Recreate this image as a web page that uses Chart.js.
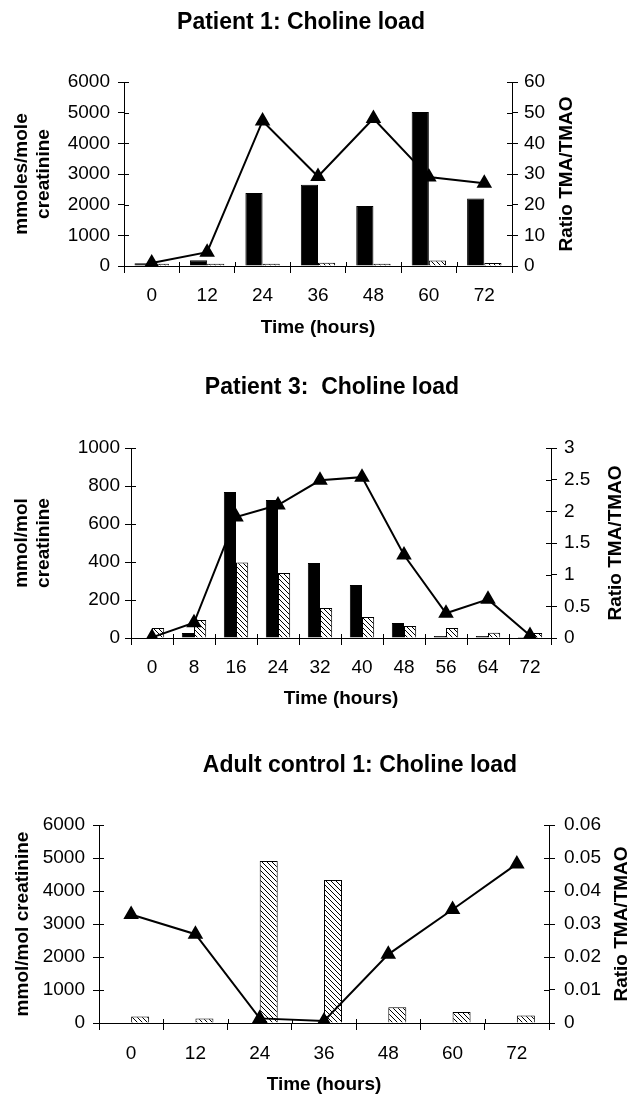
<!DOCTYPE html>
<html>
<head>
<meta charset="utf-8">
<script src="https://cdn.jsdelivr.net/npm/chart.js@4.4.1/dist/chart.umd.min.js"></script>
<style>
  body { margin: 0; background: #fff; }
  canvas { position: absolute; left: 0; }
</style>
</head>
<body>
<canvas id="c1" width="637" height="345" style="top:0px"></canvas>
<canvas id="c2" width="637" height="365" style="top:350px"></canvas>
<canvas id="c3" width="637" height="357" style="top:740px"></canvas>
<script>
// patient 1
const hours1 = ['0', '12', '24', '36', '48', '60', '72'];
const tma1 = [90, 190, 2380, 2650, 1960, 5020, 2200];
const tmao1 = [70, 70, 70, 110, 70, 180, 100];
const ratio1 = [1, 4.5, 47.3, 29.2, 48.1, 29, 27];

// patient 3
const hours2 = ['0', '8', '16', '24', '32', '40', '48', '56', '64', '72'];
const tma2 = [0, 26, 768, 726, 395, 279, 79, 10, 10, 5];
const tmao2 = [53, 95, 398, 342, 158, 111, 63, 53, 28, 26];
const ratio2 = [0.01, 0.24, 1.91, 2.1, 2.49, 2.54, 1.31, 0.39, 0.61, 0.04];

// adult control 1
const hours3 = ['0', '12', '24', '36', '48', '60', '72'];
const tma3 = [0, 0, 0, 0, 0, 0, 0];
const tmao3 = [200, 140, 4910, 4330, 476, 330, 230];
const ratio3 = [0.0329, 0.0269, 0.0014, 0.0006, 0.0208, 0.0344, 0.0482];

Chart.defaults.font.family = '"Liberation Sans", Arial, sans-serif';
Chart.defaults.font.size = 19;
Chart.defaults.color = '#000';

function hatch() {
  var s = 5;
  var c = document.createElement('canvas');
  c.width = s; c.height = s;
  var g = c.getContext('2d');
  g.fillStyle = '#fff';
  g.fillRect(0, 0, s, s);
  g.strokeStyle = '#000';
  g.lineWidth = 1;
  g.beginPath();
  g.moveTo(0, 0); g.lineTo(s, s);
  g.moveTo(-1, s - 1); g.lineTo(1, s + 1);
  g.moveTo(s - 1, -1); g.lineTo(s + 1, 1);
  g.stroke();
  return g.createPattern(c, 'repeat');
}
var hatchFill = hatch();

// short tick marks on the inner side of the axes
const innerTicks = {
  id: 'innerTicks',
  afterDraw(chart) {
    const {ctx, chartArea: a, scales} = chart;
    ctx.save();
    ctx.strokeStyle = '#000';
    ctx.lineWidth = 1;
    ctx.beginPath();
    scales.y.ticks.forEach(t => {
      const py = Math.round(scales.y.getPixelForValue(t.value)) + 0.5;
      ctx.moveTo(a.left, py); ctx.lineTo(a.left + 5, py);
    });
    scales.y1.ticks.forEach(t => {
      const py = Math.round(scales.y1.getPixelForValue(t.value)) + 0.5;
      ctx.moveTo(a.right - 5, py); ctx.lineTo(a.right, py);
    });
    const n = scales.x.ticks.length;
    for (let i = 0; i <= n; i++) {
      const px = Math.round(a.left + i * (a.right - a.left) / n) + 0.5;
      ctx.moveTo(px, a.bottom); ctx.lineTo(px, a.bottom - 4);
    }
    ctx.stroke();
    ctx.restore();
  }
};

// chart heading and the right axis title (reads bottom to top)
const texts = {
  id: 'texts',
  afterDraw(chart, args, o) {
    const {ctx, chartArea: a} = chart;
    ctx.save();
    ctx.fillStyle = '#000';
    ctx.textAlign = 'center';
    ctx.textBaseline = 'middle';
    ctx.font = 'bold 23px "Liberation Sans", Arial, sans-serif';
    ctx.fillText(o.title, o.titleX, o.titleY);
    ctx.font = 'bold 19px "Liberation Sans", Arial, sans-serif';
    ctx.translate(o.rightX, (a.top + a.bottom) / 2);
    ctx.rotate(-Math.PI / 2);
    ctx.fillText(o.right, 0, 0);
    ctx.restore();
  }
};

function num(v) { return String(+v.toFixed(3)); }

function makeChart(id, s) {
  return new Chart(document.getElementById(id), {
    type: 'bar',
    data: {
      labels: s.labels,
      datasets: [
        { type: 'line', data: s.ratio, yAxisID: 'y1', order: 0,
          borderColor: '#000', borderWidth: 2, backgroundColor: '#000',
          pointStyle: 'triangle', pointRadius: 7, pointBackgroundColor: '#000' },
        { data: s.tma, yAxisID: 'y', order: 1, backgroundColor: '#000',
          borderColor: '#000', borderWidth: 1,
          categoryPercentage: s.cat, barPercentage: 1 },
        { data: s.tmao, yAxisID: 'y', order: 1, backgroundColor: hatchFill,
          borderColor: '#000', borderWidth: 1,
          categoryPercentage: s.cat, barPercentage: 1 }
      ]
    },
    options: {
      responsive: false,
      animation: false,
      devicePixelRatio: 1,
      layout: { padding: { top: s.top, left: 0, right: 0, bottom: 0 } },
      plugins: {
        legend: { display: false },
        tooltip: { enabled: false },
        texts: { title: s.title, titleX: s.titleX, titleY: s.titleY,
                 right: 'Ratio TMA/TMAO', rightX: s.rightX }
      },
      scales: {
        x: {
          grid: { offset: true, drawOnChartArea: false, tickLength: 7, color: '#000' },
          border: { color: '#000' },
          ticks: { padding: s.xPad, maxRotation: 0 },
          title: { display: true, text: 'Time (hours)', font: { weight: 'bold' },
                   padding: { top: 0, bottom: s.xTitlePad } },
          afterFit(sc) { sc.height = s.xH; }
        },
        y: {
          position: 'left', min: 0, max: s.yMax,
          ticks: { stepSize: s.yStep, padding: s.yPad, callback: num },
          grid: { drawOnChartArea: false, tickLength: 6, color: '#000' },
          border: { color: '#000' },
          title: { display: true, text: s.yTitle, font: { weight: 'bold' },
                   padding: { top: s.yTitlePad, bottom: 0 } },
          afterFit(sc) { sc.width = s.yW; }
        },
        y1: {
          position: 'right', min: 0, max: s.rMax,
          ticks: { stepSize: s.rStep, padding: s.rPad, callback: num },
          grid: { drawOnChartArea: false, tickLength: 6, color: '#000' },
          border: { color: '#000' },
          afterFit(sc) { sc.width = s.rW; }
        }
      }
    },
    plugins: [innerTicks, texts]
  });
}

makeChart('c1', {
  labels: hours1, tma: tma1, tmao: tmao1, ratio: ratio1, cat: 0.62,
  title: 'Patient 1: Choline load', titleX: 301, titleY: 23,
  top: 82, yW: 124, rW: 125, xH: 79, xPad: 11, xTitlePad: 6,
  yMax: 6000, yStep: 1000, yPad: 8, yTitle: ['mmoles/mole', 'creatinine'], yTitlePad: 10,
  rMax: 60, rStep: 10, rPad: 6, rightX: 567
});

makeChart('c2', {
  labels: hours2, tma: tma2, tmao: tmao2, ratio: ratio2, cat: 0.58,
  title: 'Patient 3:  Choline load', titleX: 332, titleY: 38,
  top: 98, yW: 131, rW: 86, xH: 77, xPad: 11, xTitlePad: 5,
  yMax: 1000, yStep: 200, yPad: 5, yTitle: ['mmol/mol', 'creatinine'], yTitlePad: 10,
  rMax: 3, rStep: 0.5, rPad: 7, rightX: 616
});

makeChart('c3', {
  labels: hours3, tma: tma3, tmao: tmao3, ratio: ratio3, cat: 0.56,
  title: 'Adult control 1: Choline load', titleX: 360, titleY: 26,
  top: 85, yW: 99, rW: 88, xH: 74, xPad: 12, xTitlePad: 1,
  yMax: 6000, yStep: 1000, yPad: 8, yTitle: 'mmol/mol creatinine', yTitlePad: 11,
  rMax: 0.06, rStep: 0.01, rPad: 9, rightX: 622
});
</script>
</body>
</html>
